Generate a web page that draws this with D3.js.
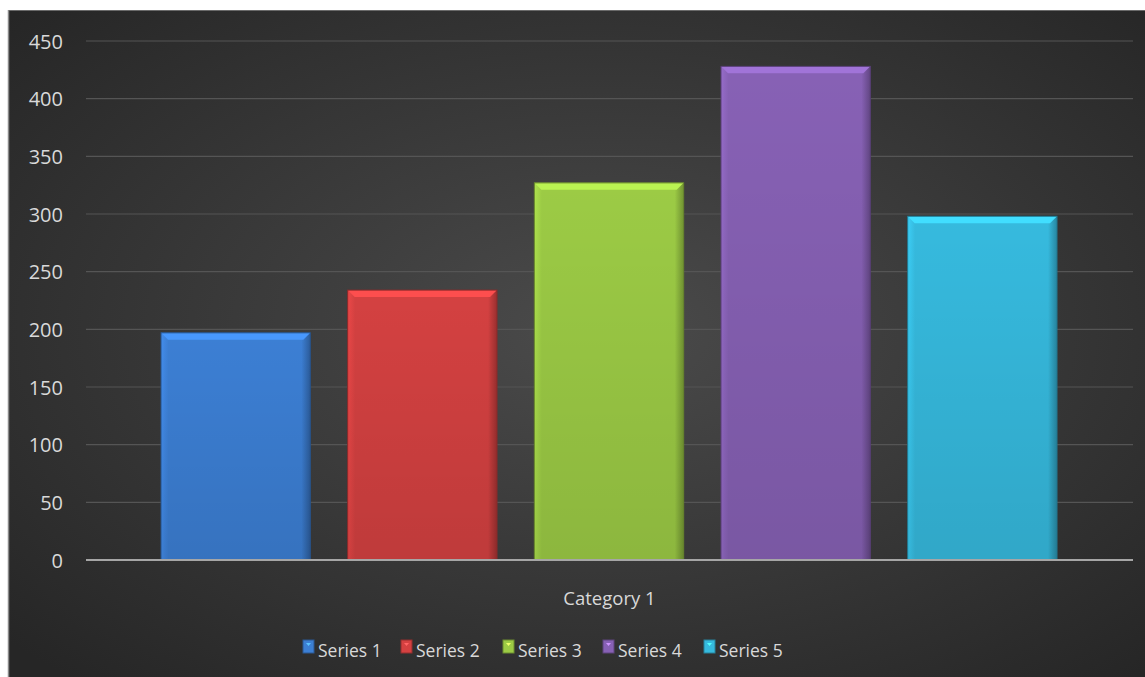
<!DOCTYPE html>
<html>
<head>
<meta charset="UTF-8">
<title></title>
<style>
  body { margin: 0; background: #fff; }
  .tick text { fill: #d9d9d9; font-family: "Open Sans", sans-serif; font-size: 20px; }
  .lbl { fill: #d9d9d9; font-family: "Open Sans", sans-serif; font-size: 17.5px; }
  .cat { fill: #d9d9d9; font-family: "Open Sans", sans-serif; font-size: 18.5px; }
</style>
</head>
<body>
<script src="https://cdnjs.cloudflare.com/ajax/libs/d3/7.8.5/d3.min.js"></script>
<script>
// data
var categories = ["Category 1"];
var seriesNames = ["Series 1", "Series 2", "Series 3", "Series 4", "Series 5"];
var seriesValues = [197, 234, 327, 428, 298];
var yTicks = [0, 50, 100, 150, 200, 250, 300, 350, 400, 450];
var seriesColors = ["#3c7fd4", "#d44141", "#9ccb45", "#8761b5", "#36bade"];

var width = 1145, height = 677;
var svg = d3.select("body").append("svg")
  .attr("width", width).attr("height", height);

var defs = svg.append("defs");

// panel background
var bg = defs.append("radialGradient").attr("id", "bg")
  .attr("cx", "52%").attr("cy", "48%").attr("r", "70%");
bg.append("stop").attr("offset", "0%").attr("stop-color", "#4b4b4b");
bg.append("stop").attr("offset", "100%").attr("stop-color", "#262626");

svg.append("rect")
  .attr("x", 9).attr("y", 10)
  .attr("width", width - 9).attr("height", height - 10)
  .attr("fill", "url(#bg)");
svg.append("line")
  .attr("x1", 8.5).attr("x2", 8.5).attr("y1", 10).attr("y2", height)
  .attr("stroke", "#8a8a8a").attr("stroke-width", 1.5);
svg.append("line")
  .attr("x1", 9).attr("x2", width).attr("y1", 10.5).attr("y2", 10.5)
  .attr("stroke", "#6a6a6a").attr("stroke-width", 1);

var plot = { left: 86, right: 1133, top: 41, bottom: 560 };

var y = d3.scaleLinear().domain([0, 450]).range([plot.bottom, plot.top]);
var x0 = d3.scaleBand().domain(categories).range([plot.left, plot.right]);
var x1 = d3.scaleBand().domain(seriesNames)
  .range([x0(categories[0]) + 75, x0(categories[0]) + x0.bandwidth() - 76])
  .paddingInner(0.2);

// grid + y axis
var yAxis = d3.axisLeft(y).tickValues(yTicks).tickSize(0).tickPadding(0);
var gy = svg.append("g")
  .attr("transform", "translate(" + plot.left + ",0)")
  .call(yAxis);
gy.select(".domain").remove();
gy.selectAll(".tick text").attr("x", -23).attr("dy", "0.36em");

svg.append("g").selectAll("line")
  .data(yTicks.filter(function(d) { return d > 0; }))
  .enter().append("line")
  .attr("x1", plot.left).attr("x2", plot.right)
  .attr("y1", function(d) { return y(d); })
  .attr("y2", function(d) { return y(d); })
  .attr("stroke", "#555").attr("stroke-width", 1.2);

// bar gradients
seriesColors.forEach(function(c, i) {
  var g = defs.append("linearGradient").attr("id", "bar" + i)
    .attr("x1", "0%").attr("x2", "100%").attr("y1", "0%").attr("y2", "0%");
  var cc = d3.color(c);
  g.append("stop").attr("offset", "0%").attr("stop-color", cc.brighter(0.3));
  g.append("stop").attr("offset", "5%").attr("stop-color", cc);
  g.append("stop").attr("offset", "94%").attr("stop-color", cc);
  g.append("stop").attr("offset", "100%").attr("stop-color", cc.darker(0.9));
  var v = defs.append("linearGradient").attr("id", "shade" + i)
    .attr("x1", "0%").attr("x2", "0%").attr("y1", "0%").attr("y2", "100%");
  v.append("stop").attr("offset", "0%").attr("stop-color", "#000").attr("stop-opacity", 0);
  v.append("stop").attr("offset", "100%").attr("stop-color", "#000").attr("stop-opacity", 0.1);
});

var bars = svg.append("g").selectAll("g")
  .data(seriesValues)
  .enter().append("g");

bars.append("rect")
  .attr("x", function(d, i) { return x1(seriesNames[i]); })
  .attr("y", function(d) { return y(d); })
  .attr("width", x1.bandwidth())
  .attr("height", function(d) { return plot.bottom - y(d); })
  .attr("fill", function(d, i) { return "url(#bar" + i + ")"; });

bars.append("rect")
  .attr("x", function(d, i) { return x1(seriesNames[i]); })
  .attr("y", function(d) { return y(d); })
  .attr("width", x1.bandwidth())
  .attr("height", function(d) { return plot.bottom - y(d); })
  .attr("fill", function(d, i) { return "url(#shade" + i + ")"; });

// top bevel
bars.append("path")
  .attr("d", function(d, i) {
    var bx = x1(seriesNames[i]), bw = x1.bandwidth(), by = y(d);
    return "M" + bx + "," + by + "L" + (bx + bw) + "," + by +
      "L" + (bx + bw - 7) + "," + (by + 7) + "L" + (bx + 7) + "," + (by + 7) + "Z";
  })
  .attr("fill", function(d, i) { return d3.color(seriesColors[i]).brighter(0.5); });

bars.append("rect")
  .attr("x", function(d, i) { return x1(seriesNames[i]); })
  .attr("y", function(d) { return y(d); })
  .attr("width", x1.bandwidth())
  .attr("height", function(d) { return plot.bottom - y(d); })
  .attr("fill", "none")
  .attr("stroke", function(d, i) { return d3.color(seriesColors[i]).darker(1.2); })
  .attr("stroke-width", 1);

// baseline
svg.append("line")
  .attr("x1", plot.left).attr("x2", plot.right)
  .attr("y1", y(0)).attr("y2", y(0))
  .attr("stroke", "#a6a6a6").attr("stroke-width", 2);

// category label
svg.append("text").attr("class", "cat")
  .attr("x", x0(categories[0]) + x0.bandwidth() / 2)
  .attr("y", 605)
  .attr("text-anchor", "middle")
  .text(categories[0]);

// legend
var legendX = [303, 401, 503, 603, 704];
var lg = svg.append("g").selectAll("g")
  .data(seriesNames)
  .enter().append("g")
  .attr("transform", function(d, i) { return "translate(" + legendX[i] + ",640)"; });
lg.append("rect")
  .attr("width", 11).attr("height", 13)
  .attr("fill", function(d, i) { return seriesColors[i]; })
  .attr("stroke", function(d, i) { return d3.color(seriesColors[i]).darker(1); });
lg.append("path")
  .attr("d", "M3,3L8,3L5.5,6Z")
  .attr("fill", function(d, i) { return d3.color(seriesColors[i]).brighter(1.2); });
lg.append("text").attr("class", "lbl")
  .attr("x", 15).attr("y", 17)
  .text(function(d) { return d; });
</script>
</body>
</html>
